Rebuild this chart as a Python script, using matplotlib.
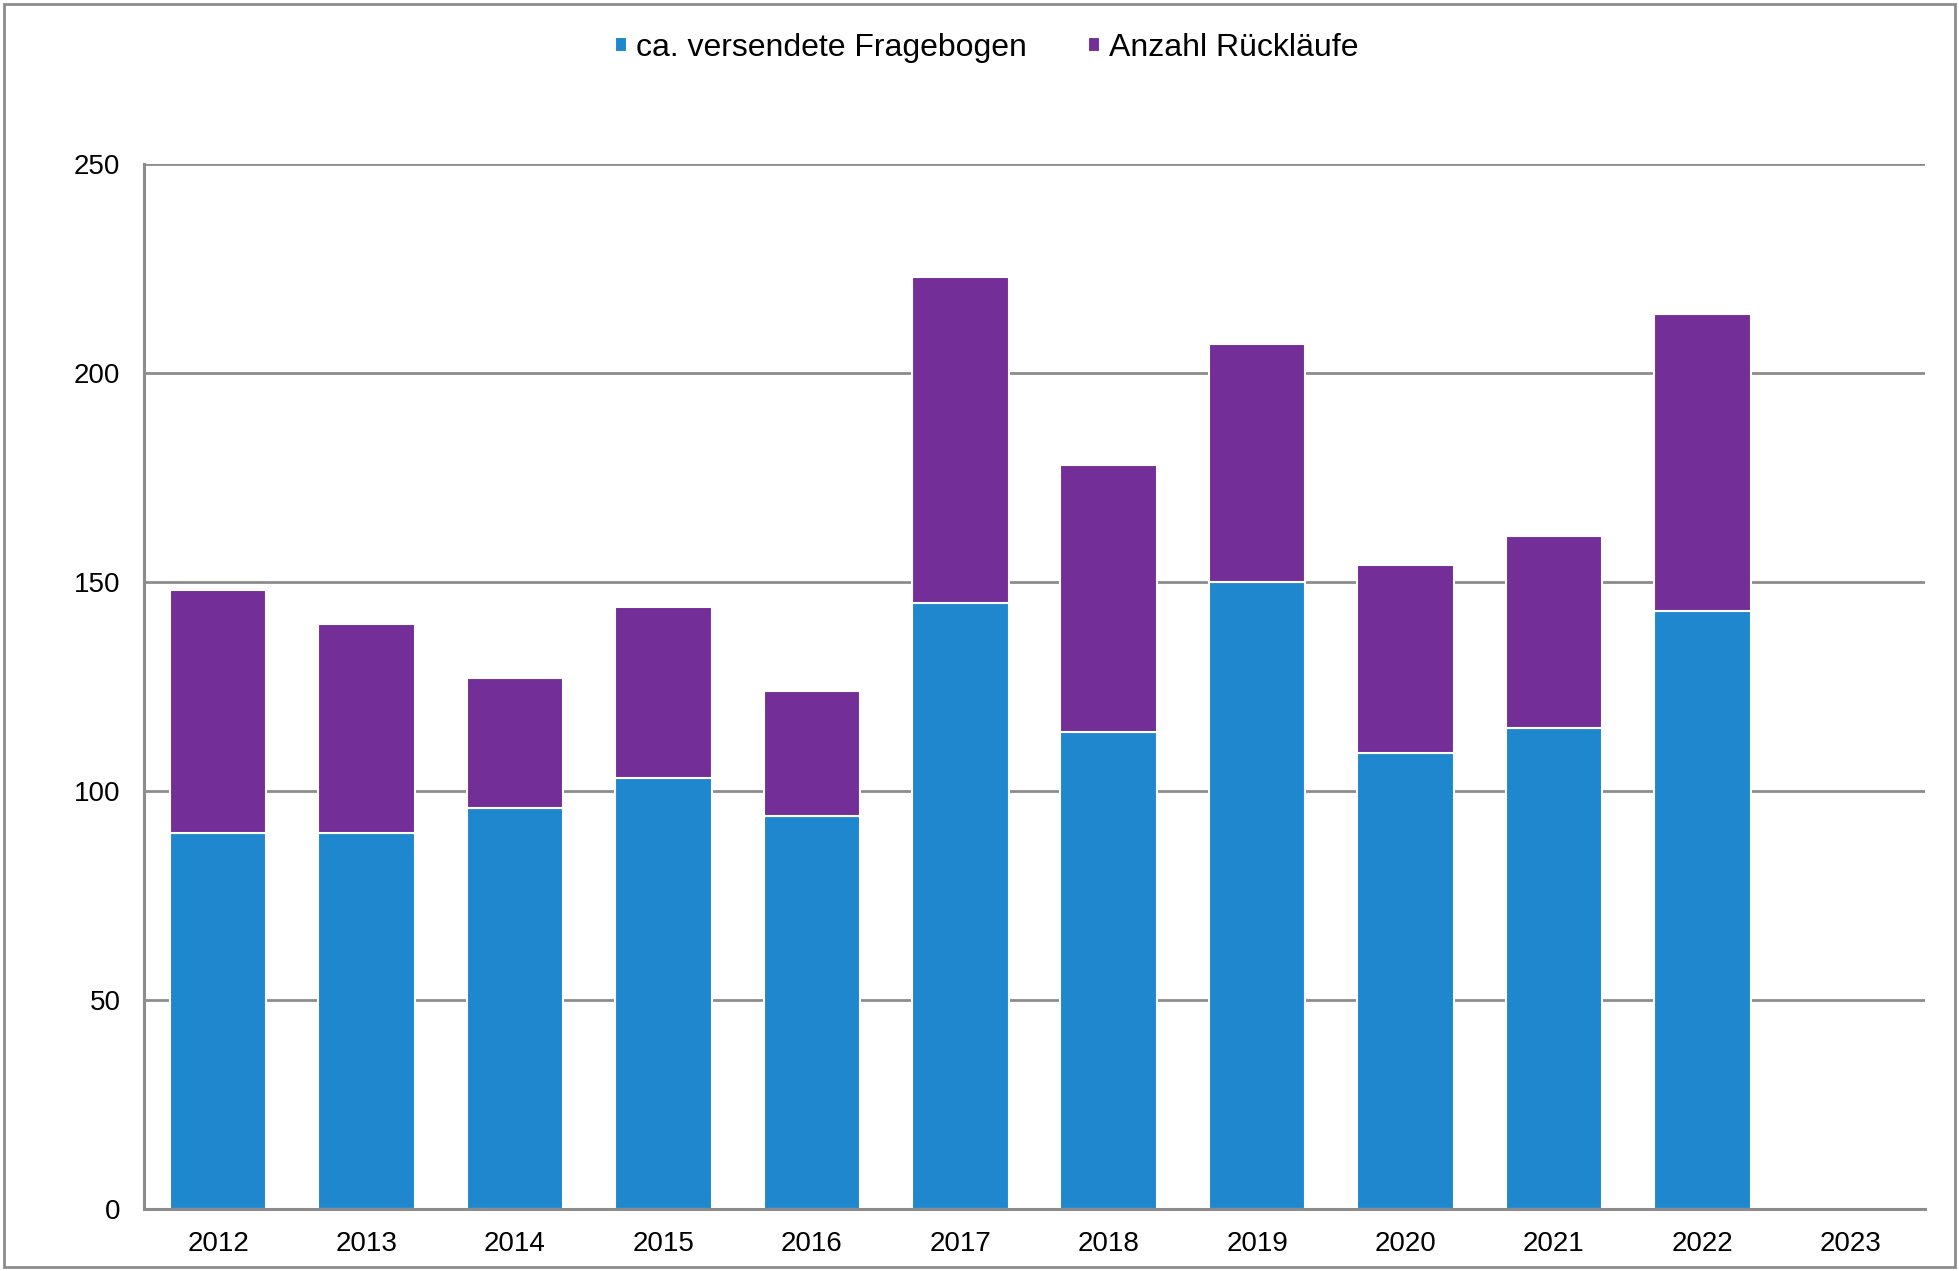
import matplotlib.pyplot as plt
from matplotlib.patches import Rectangle

# Data
jahre = ["2012", "2013", "2014", "2015", "2016", "2017",
         "2018", "2019", "2020", "2021", "2022", "2023"]
versendet = [90, 90, 96, 103, 94, 145, 114, 150, 109, 115, 143, 0]
ruecklaeufe = [58, 50, 31, 41, 30, 78, 64, 57, 45, 46, 71, 0]

blau = "#1f87cd"
lila = "#742e98"
grau = "#8c8c8c"

plt.rcParams['font.family'] = ['Liberation Sans', 'DejaVu Sans']

fig = plt.figure(figsize=(19.59, 12.71), dpi=100)
ax = fig.add_axes([144 / 1959, 1 - 1209 / 1271, (1925 - 144) / 1959, (1209 - 164) / 1271])

x = list(range(len(jahre)))
ax.bar(x, versendet, width=0.65, color=blau, edgecolor="white", linewidth=1.5,
       label="ca. versendete Fragebogen", zorder=3)
ax.bar(x, ruecklaeufe, width=0.65, bottom=versendet, color=lila, edgecolor="white",
       linewidth=1.5, label="Anzahl Rückläufe", zorder=3)

ax.set_xlim(-0.5, len(jahre) - 0.5)
ax.set_ylim(0, 250)
ax.set_yticks([0, 50, 100, 150, 200, 250])
ax.set_xticks(x)
ax.set_xticklabels(jahre)
ax.tick_params(axis="both", length=0, labelsize=20)
ax.tick_params(axis="x", pad=16)
ax.tick_params(axis="y", pad=17)

ax.yaxis.grid(True, color=grau, linewidth=2, zorder=0)
ax.set_axisbelow(True)
for s in ["top", "right"]:
    ax.spines[s].set_visible(False)
for s in ["left", "bottom"]:
    ax.spines[s].set_color(grau)
    ax.spines[s].set_linewidth(2.2)
    ax.spines[s].set_zorder(4)

ax.legend(loc="center", bbox_to_anchor=(987 / 1959, 1 - 48 / 1271), bbox_transform=fig.transFigure,
          ncol=2, frameon=False, fontsize=23, handlelength=0.36, handleheight=0.36,
          handletextpad=0.3, columnspacing=1.9, borderpad=0.2)

# outer border
fig.patches.append(Rectangle((4 / 1959, 4 / 1271), 1 - 8 / 1959, 1 - 8 / 1271,
                             transform=fig.transFigure, fill=False,
                             edgecolor=grau, linewidth=2))

fig.savefig("out.png", dpi=100)
